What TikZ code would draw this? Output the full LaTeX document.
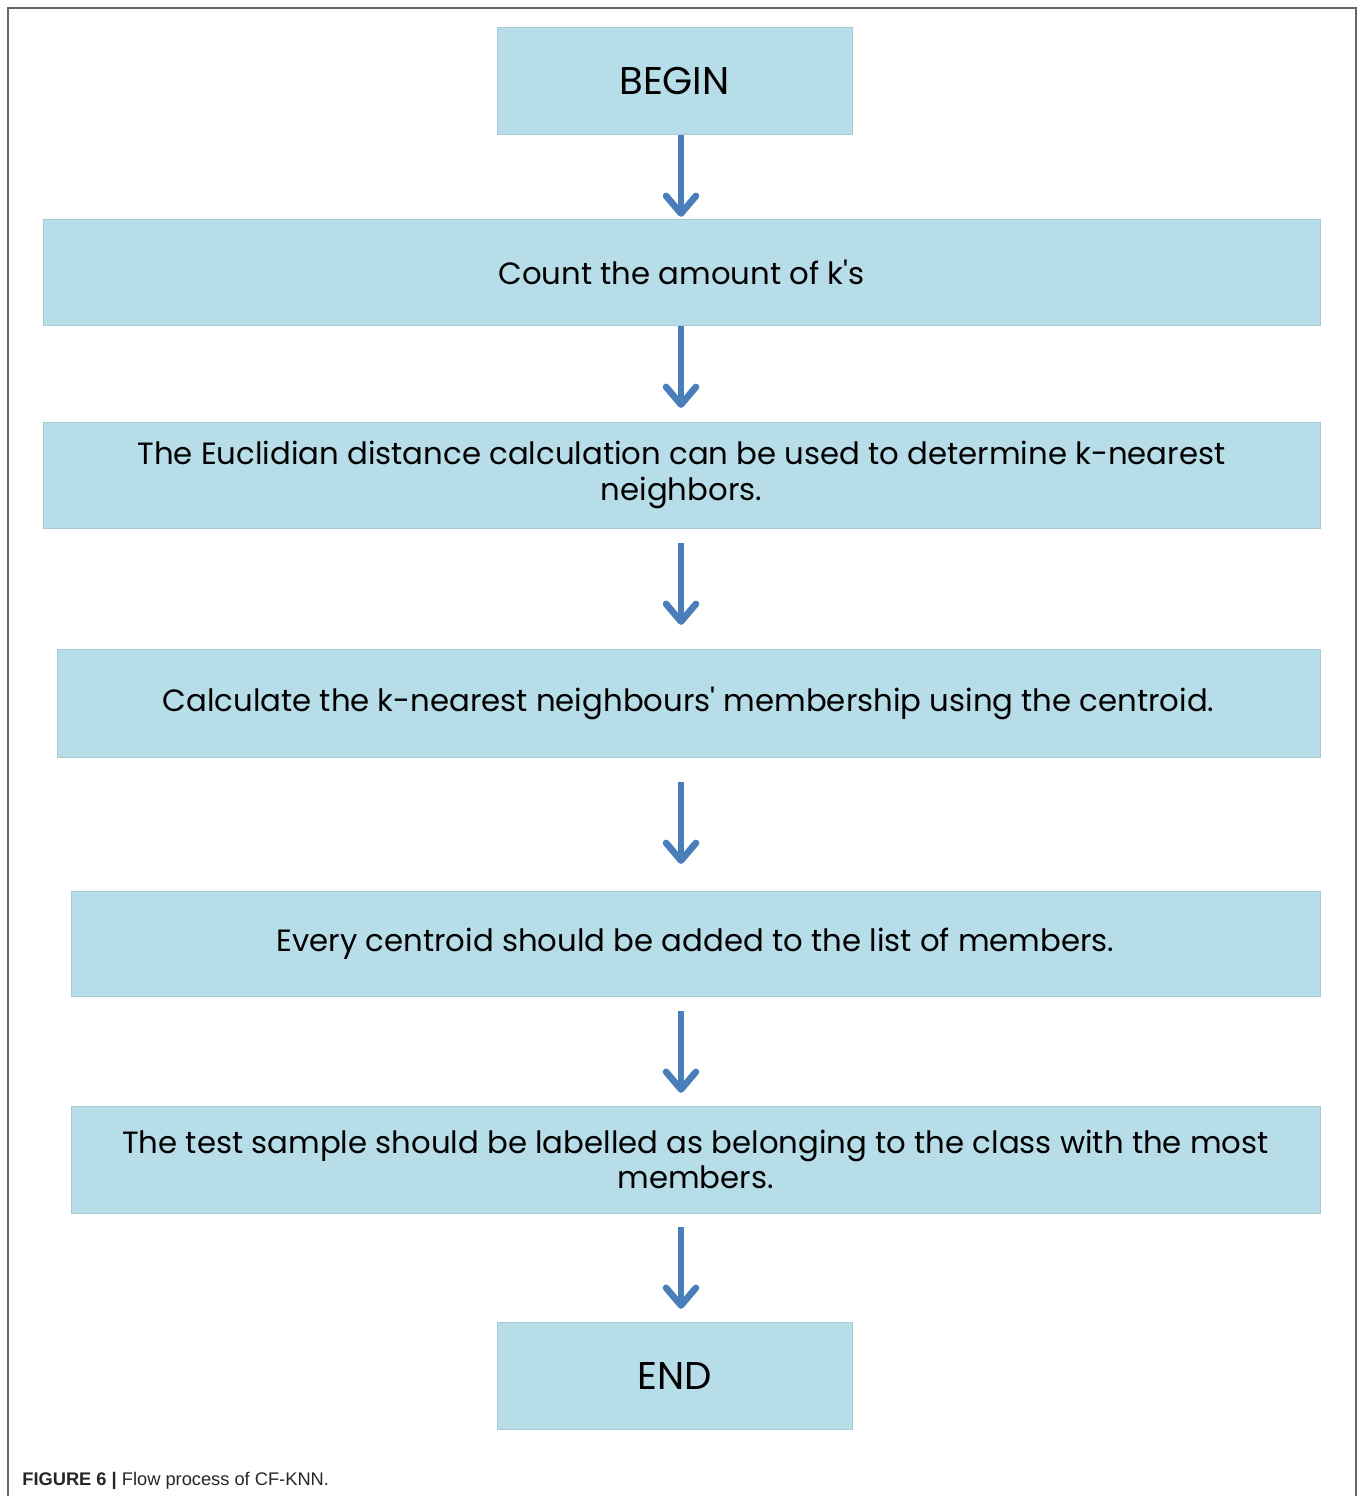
\documentclass[tikz,border=0pt]{standalone}
\usepackage{fontspec}
\newfontfamily\boxfont{Poppins}[Ligatures=TeXOff]
\newfontfamily\capfont{Liberation Sans}
\usetikzlibrary{arrows.meta}
\usetikzlibrary{positioning}
\definecolor{boxblue}{HTML}{B7DDE8}
\definecolor{arrowblue}{HTML}{4A7EBB}
\definecolor{framegray}{HTML}{666666}
\tikzset{stepbox/.style = {fill=boxblue, draw=boxblue!92!black, line width=0.3pt,
                           inner sep=0pt, align=center,
                           font=\boxfont\fontsize{17.5}{20.4}\selectfont},
         endbox/.style = {stepbox, minimum width=7.1cm, minimum height=2.14cm,
                          font=\boxfont\fontsize{22}{26}\selectfont},
         flow/.style = {draw=arrowblue, line width=3.8pt,
                        -{Straight Barb[length=10pt, width=17pt, round]}}}

\begin{document}
\begin{tikzpicture}[x=0.02cm, y=-0.02cm]
    \useasboundingbox (0,0) rectangle (1358,1496);
    \draw[framegray, line width=1.2pt] (8,1496) -- (8,8) -- (1356,8) -- (1356,1496);
    \coordinate (axis) at (681,0);

    \node[endbox] (begin) at (674.5,80.5) {BEGIN};
    \node[stepbox, minimum width=25.54cm, minimum height=2.12cm] (count) at (681.5,272) {Count the amount of k's};
    \node[stepbox, minimum width=25.54cm, minimum height=2.12cm] (euclid) at (681.5,475)
        {The Euclidian distance calculation can be used to determine k-nearest\\neighbors.};
    \node[stepbox, minimum width=25.26cm, minimum height=2.16cm] (centroid) at (688.5,703)
        {Calculate the k-nearest neighbours' membership using the centroid.};
    \node[stepbox, minimum width=24.98cm, minimum height=2.1cm] (members) at (695.5,943.5)
        {Every centroid should be added to the list of members.};
    \node[stepbox, minimum width=24.98cm, minimum height=2.14cm] (label) at (695.5,1159.5)
        {The test sample should be labelled as belonging to the class with the most\\members.};
    \node[endbox] (stop) at (674.5,1375.5) {END};

    \draw[flow, shorten <=0.6pt, shorten >=1.1pt] (begin.south -| axis) -- (count.north -| axis);
    \draw[flow, shorten <=0.6pt, shorten >=7.9pt] (count.south -| axis) -- (euclid.north -| axis);
    \draw[flow, shorten <=8.5pt, shorten >=13.6pt] (euclid.south -| axis) -- (centroid.north -| axis);
    \draw[flow, shorten <=14.2pt, shorten >=15.3pt] (centroid.south -| axis) -- (members.north -| axis);
    \draw[flow, shorten <=8.5pt, shorten >=7.4pt] (members.south -| axis) -- (label.north -| axis);
    \draw[flow, shorten <=7.9pt, shorten >=7.4pt] (label.south -| axis) -- (stop.north -| axis);

    \node[anchor=base west, inner sep=0pt, text=black!85, font=\capfont\fontsize{10.4}{13}\selectfont] (caption)
        at (22,1485) {\textbf{FIGURE 6 |} Flow process of CF-KNN.};
\end{tikzpicture}
\end{document}
